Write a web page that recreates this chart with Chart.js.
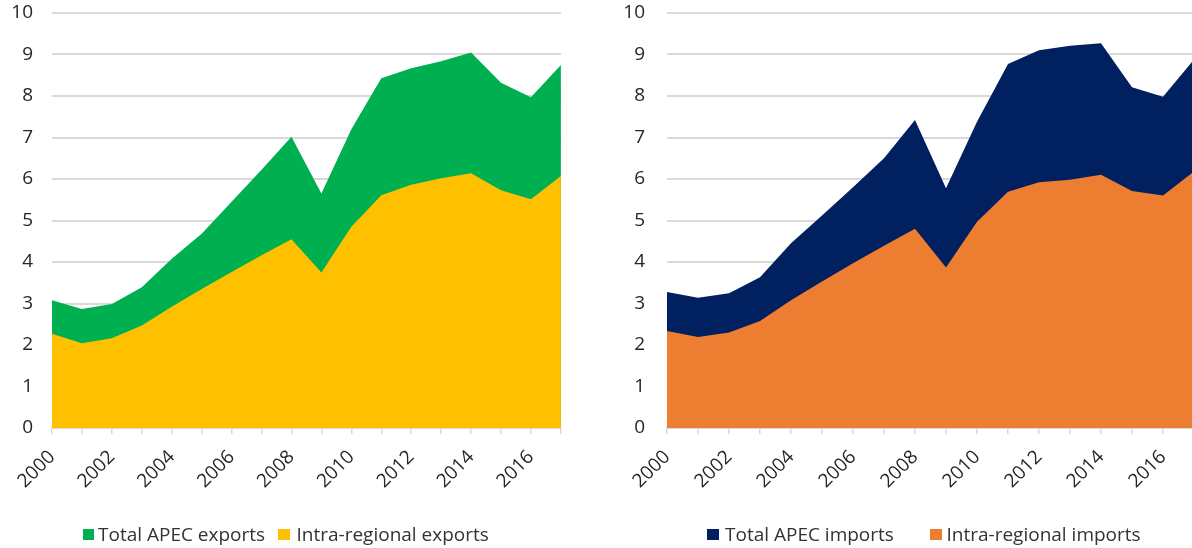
<!DOCTYPE html>
<html>
<head>
<meta charset="utf-8">
<script src="https://cdn.jsdelivr.net/npm/chart.js@4/dist/chart.umd.min.js"></script>
<style>
  html, body { margin: 0; padding: 0; background: #fff; overflow: hidden; width: 1192px; height: 548px; }
  .wrap { position: absolute; top: 0; height: 548px; }
  #w1 { left: 0; width: 589px; }
  #w2 { left: 600px; width: 660px; }
  .legend { position: absolute; top: 522px; height: 24px; font-family: "Open Sans", sans-serif; font-size: 19px; color: #333; white-space: nowrap; line-height: 24px; }
  .legend span.item { position: absolute; top: 0; }
  .legend i { position: absolute; top: 6.5px; width: 11.5px; height: 11px; }
</style>
</head>
<body>
<div class="wrap" id="w1"><canvas id="c1"></canvas></div>
<div class="wrap" id="w2"><canvas id="c2"></canvas></div>

<div class="legend" style="left:0;width:600px;">
  <span class="item" style="left:82.5px;"><i style="left:0;background:#00B050"></i><span style="position:absolute;left:15.5px;">Total APEC exports</span></span>
  <span class="item" style="left:278px;"><i style="left:0;background:#FFC000"></i><span style="position:absolute;left:18.5px;">Intra-regional exports</span></span>
</div>
<div class="legend" style="left:0;width:1192px;">
  <span class="item" style="left:707px;"><i style="left:0;background:#002060"></i><span style="position:absolute;left:18px;">Total APEC imports</span></span>
  <span class="item" style="left:930px;"><i style="left:0;background:#ED7D31"></i><span style="position:absolute;left:16.5px;">Intra-regional imports</span></span>
</div>

<script>
const years = ['2000','2001','2002','2003','2004','2005','2006','2007','2008','2009','2010','2011','2012','2013','2014','2015','2016','2017'];
const yTicks = [0,1,2,3,4,5,6,7,8,9,10];

const totalExports = [3.08, 2.87, 2.99, 3.39, 4.08, 4.68, 5.45, 6.22, 7.02, 5.65, 7.20, 8.43, 8.67, 8.84, 9.05, 8.32, 7.97, 8.75];
const intraExports = [2.27, 2.04, 2.16, 2.47, 2.92, 3.35, 3.76, 4.16, 4.55, 3.75, 4.85, 5.61, 5.86, 6.02, 6.14, 5.73, 5.51, 6.07];

const totalImports = [3.28, 3.14, 3.25, 3.63, 4.45, 5.12, 5.80, 6.50, 7.42, 5.78, 7.38, 8.77, 9.10, 9.21, 9.27, 8.21, 7.98, 8.88];
const intraImports = [2.34, 2.19, 2.30, 2.58, 3.08, 3.53, 3.97, 4.39, 4.80, 3.87, 4.97, 5.69, 5.92, 5.98, 6.10, 5.71, 5.60, 6.18];

const FONT = '"Open Sans", sans-serif';

function makeChart(id, labels, topData, botData, topName, botName, topColor, botColor, yWidth, padRight, yGap) {
  return new Chart(document.getElementById(id), {
    type: 'line',
    data: {
      labels: labels,
      datasets: [
        { label: botName, data: botData, fill: 'origin', backgroundColor: botColor, borderWidth: 0, pointRadius: 0, tension: 0, order: 1 },
        { label: topName, data: topData, fill: 'origin', backgroundColor: topColor, borderWidth: 0, pointRadius: 0, tension: 0, order: 2 }
      ]
    },
    options: {
      responsive: true,
      maintainAspectRatio: false,
      animation: false,
      layout: { padding: { top: 13, right: padRight, bottom: 0, left: 0 } },
      plugins: { legend: { display: false }, tooltip: { enabled: false } },
      scales: {
        x: {
          type: 'category',
          offset: false,
          grid: { display: true, drawOnChartArea: false, drawTicks: true, tickLength: 6, color: '#D9D9D9', lineWidth: 1.5 },
          border: { display: true, color: '#D9D9D9', width: 1.5 },
          ticks: {
            autoSkip: false, maxRotation: 45, minRotation: 45, padding: 12,
            color: '#262626', font: { family: FONT, size: 19 },
            callback: function(v, i) { return (i % 2 === 0) ? labels[i] : ''; }
          },
          afterFit: function(axis) { axis.height = 120; }
        },
        y: {
          min: 0, max: 10,
          afterBuildTicks: function(axis) { axis.ticks = yTicks.map(v => ({ value: v })); },
          grid: { color: '#D9D9D9', lineWidth: 2, drawTicks: true, tickLength: yGap, tickColor: 'rgba(0,0,0,0)' },
          border: { display: false },
          ticks: { padding: 0, color: '#262626', font: { family: FONT, size: 19 } },
          afterFit: function(axis) { axis.width = yWidth; }
        }
      }
    }
  });
}

makeChart('c1', years, totalExports, intraExports, 'Total APEC exports', 'Intra-regional exports', '#00B050', '#FFC000', 52, 0, 19);
makeChart('c2', years, totalImports, intraImports, 'Total APEC imports', 'Intra-regional imports', '#002060', '#ED7D31', 67, 66, 22);
</script>
</body>
</html>
